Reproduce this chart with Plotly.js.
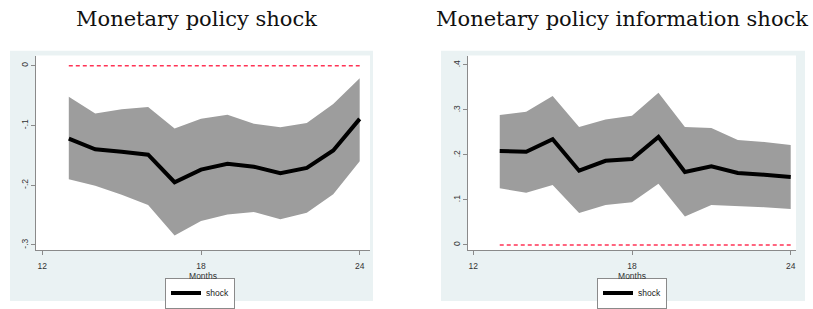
<!DOCTYPE html>
<html>
<head>
<meta charset="utf-8">
<script src="https://cdn.plot.ly/plotly-3.0.1.min.js"></script>
<style>html,body{margin:0;padding:0;background:#fff;}#chart{width:813px;height:309px;}</style>
</head>
<body>
<div id="chart"></div>
<script>
// Data
const months = [13, 14, 15, 16, 17, 18, 19, 20, 21, 22, 23, 24];

// Panel 1: Monetary policy shock
const mpShock = [-0.122, -0.140, -0.144, -0.149, -0.195, -0.174, -0.164, -0.169, -0.180, -0.171, -0.142, -0.089];
const mpUpper = [-0.052, -0.080, -0.073, -0.069, -0.105, -0.089, -0.082, -0.097, -0.103, -0.096, -0.064, -0.021];
const mpLower = [-0.190, -0.201, -0.216, -0.233, -0.284, -0.260, -0.249, -0.245, -0.257, -0.246, -0.215, -0.160];

// Panel 2: Monetary policy information shock
const infoShock = [0.209, 0.207, 0.235, 0.165, 0.187, 0.191, 0.240, 0.162, 0.175, 0.160, 0.156, 0.151];
const infoUpper = [0.289, 0.296, 0.331, 0.262, 0.279, 0.287, 0.338, 0.262, 0.260, 0.233, 0.229, 0.222];
const infoLower = [0.126, 0.116, 0.133, 0.071, 0.089, 0.095, 0.136, 0.063, 0.089, 0.087, 0.084, 0.080];

const zeroRef = months.map(() => 0);

const titles = ["Monetary policy shock", "Monetary policy information shock"];
const xTickVals = [12, 18, 24];
const xTickText = ["12", "18", "24"];
const y1TickVals = [-0.3, -0.2, -0.1, 0];
const y1TickText = ["-.3", "-.2", "-.1", "0"];
const y2TickVals = [0, 0.1, 0.2, 0.3, 0.4];
const y2TickText = ["0", ".1", ".2", ".3", ".4"];
const xTitle = "Months";
const seriesName = "shock";

const W = 813, H = 309;
const px = v => v / W;
const py = v => 1 - v / H;

const bandColor = "#9d9d9d";
const lineColor = "#000000";
const zeroColor = "#ff3355";

function panel(xa, ya, lower, upper, mid, legendId) {
  return [
    {x: months, y: lower, xaxis: xa, yaxis: ya, type: "scatter", mode: "lines",
     line: {width: 0, color: bandColor}, showlegend: false, hoverinfo: "skip"},
    {x: months, y: upper, xaxis: xa, yaxis: ya, type: "scatter", mode: "lines",
     line: {width: 0, color: bandColor}, fill: "tonexty", fillcolor: bandColor,
     showlegend: false, hoverinfo: "skip"},
    {x: months, y: zeroRef, xaxis: xa, yaxis: ya, type: "scatter", mode: "lines",
     line: {width: 1.6, color: zeroColor, dash: "4px,3px"}, showlegend: false},
    {x: months, y: mid, xaxis: xa, yaxis: ya, type: "scatter", mode: "lines",
     line: {width: 4, color: lineColor}, name: seriesName, legend: legendId}
  ];
}

const data = [].concat(
  panel("x", "y", mpLower, mpUpper, mpShock, "legend"),
  panel("x2", "y2", infoLower, infoUpper, infoShock, "legend2")
);

const tickFont = {family: "Liberation Sans, Arial, sans-serif", size: 8.5, color: "#333"};
const axisCommon = {
  showline: true, linecolor: "#8a8a8a", linewidth: 1,
  ticks: "outside", ticklen: 4, tickcolor: "#8a8a8a", tickwidth: 1,
  showgrid: false, zeroline: false, tickfont: tickFont, fixedrange: true
};

const yDom = [py(257), py(57)];
const legendFont = {family: "Liberation Sans, Arial, sans-serif", size: 8.5, color: "#222"};

const layout = {
  width: W, height: H,
  margin: {l: 0, r: 0, t: 0, b: 0},
  paper_bgcolor: "#ffffff",
  plot_bgcolor: "#ffffff",
  showlegend: true,
  xaxis: Object.assign({}, axisCommon, {
    domain: [px(36), px(370)], range: [11.76, 24.39],
    tickmode: "array", tickvals: xTickVals, ticktext: xTickText,
    ticklabelstandoff: 3,
    title: {text: xTitle, font: tickFont, standoff: 0}, anchor: "y"
  }),
  yaxis: Object.assign({}, axisCommon, {
    domain: yDom, range: [-0.309, 0.017],
    tickmode: "array", tickvals: y1TickVals, ticktext: y1TickText,
    tickangle: -90, anchor: "x"
  }),
  xaxis2: Object.assign({}, axisCommon, {
    domain: [px(468), px(796)], range: [11.8, 24.2],
    tickmode: "array", tickvals: xTickVals, ticktext: xTickText,
    ticklabelstandoff: 3,
    title: {text: xTitle, font: tickFont, standoff: 0}, anchor: "y2"
  }),
  yaxis2: Object.assign({}, axisCommon, {
    domain: yDom, range: [-0.012, 0.421],
    tickmode: "array", tickvals: y2TickVals, ticktext: y2TickText,
    tickangle: -90, anchor: "x2"
  }),
  legend: {
    x: px(200), xanchor: "center", y: py(285), yanchor: "top",
    bgcolor: "#ffffff", bordercolor: "#8a8a8a", borderwidth: 1,
    font: legendFont, itemwidth: 30, tracegroupgap: 0
  },
  legend2: {
    x: px(632), xanchor: "center", y: py(285), yanchor: "top",
    bgcolor: "#ffffff", bordercolor: "#8a8a8a", borderwidth: 1,
    font: legendFont, itemwidth: 30, tracegroupgap: 0
  },
  shapes: [
    {type: "rect", xref: "paper", yref: "paper", x0: px(10), x1: px(373), y0: 0, y1: py(52),
     fillcolor: "#eaf2f3", line: {width: 0}, layer: "below"},
    {type: "rect", xref: "paper", yref: "paper", x0: px(441), x1: px(805), y0: 0, y1: py(52),
     fillcolor: "#eaf2f3", line: {width: 0}, layer: "below"},
    {type: "rect", xref: "x domain", yref: "y domain", x0: 0, x1: 1, y0: 0, y1: 1,
     fillcolor: "#ffffff", line: {width: 0}, layer: "below"},
    {type: "rect", xref: "x2 domain", yref: "y2 domain", x0: 0, x1: 1, y0: 0, y1: 1,
     fillcolor: "#ffffff", line: {width: 0}, layer: "below"}
  ],
  annotations: [
    {text: titles[0], xref: "paper", yref: "paper", x: px(196), y: py(19), xanchor: "center", yanchor: "middle",
     showarrow: false, font: {family: "DejaVu Serif, serif", size: 21, color: "#111"}},
    {text: titles[1], xref: "paper", yref: "paper", x: px(622), y: py(19), xanchor: "center", yanchor: "middle",
     showarrow: false, font: {family: "DejaVu Serif, serif", size: 21, color: "#111"}}
  ]
};

Plotly.newPlot("chart", data, layout, {displayModeBar: false, staticPlot: true});
</script>
</body>
</html>
